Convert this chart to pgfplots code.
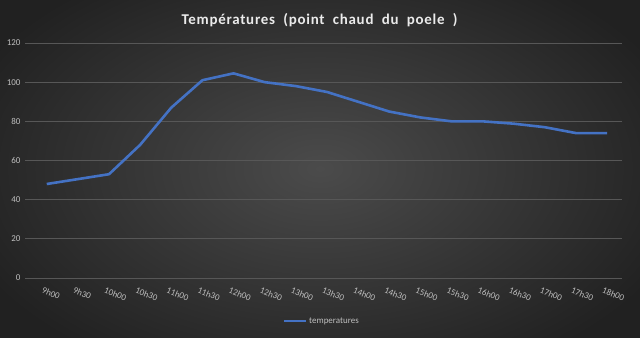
\documentclass[border=0pt]{standalone}
\usepackage{fontspec}
\setmainfont{Carlito}
\usepackage{pgfplots}
\pgfplotsset{compat=1.18}
\definecolor{bgin}{HTML}{4B4B4B}
\definecolor{bgout}{HTML}{212121}
\definecolor{gridc}{HTML}{575757}
\definecolor{linec}{HTML}{4472C4}
\definecolor{txtc}{HTML}{BFBFBF}
\begin{document}
\begin{tikzpicture}[x=1bp,y=1bp]
\path[use as bounding box] (0,0) rectangle (640,337);
\shade[inner color=bgin, outer color=bgout] (-60,-60) rectangle (700,397);
\node[text=white!92!black, font=\fontsize{15}{17}\selectfont\bfseries\addfontfeatures{LetterSpace=5}] at (319.5,317) {Températures\ \ (point\ \ chaud\ \ du\ \ poele\ \ )};
\begin{axis}[
  at={(25bp,59bp)}, anchor=south west,
  width=597bp, height=235bp, scale only axis,
  xmin=-0.7, xmax=18.48, ymin=0, ymax=120,
  ytick={0,20,...,120},
  xtick={0,...,18},
  xticklabels={9h00,9h30,10h00,10h30,11h00,11h30,12h00,12h30,13h00,13h30,14h00,14h30,15h00,15h30,16h00,16h30,17h00,17h30,18h00},
  x tick label style={rotate=-22, anchor=north west, font=\fontsize{9}{10}\selectfont, text=txtc, yshift=-6bp, xshift=-3bp},
  y tick label style={font=\fontsize{9}{10}\selectfont, text=txtc},
  /pgf/number format/assume math mode=true,
  ymajorgrids, grid style={gridc, line width=0.8bp},
  axis line style={draw=none},
  major tick length=0pt,
  yticklabel style={xshift=-1bp},
  legend style={at={(0.497,-0.183)}, anchor=center, fill=none, draw=none, text=txtc, font=\fontsize{9}{10}\selectfont, inner sep=0pt},
  legend image code/.code={\draw[#1] (0bp,0bp) -- (22bp,0bp);},
]
\addplot[linec, line width=2.6bp, line join=round] coordinates {
(0,48) (1,50.5) (2,53) (3,68) (4,87) (5,101) (6,104.5) (7,100) (8,98) (9,95) (10,90) (11,85) (12,82) (13,80) (14,80) (15,78.8) (16,77) (17,74) (18,74)
};
\addlegendentry{temperatures}
\end{axis}
\end{tikzpicture}
\end{document}
